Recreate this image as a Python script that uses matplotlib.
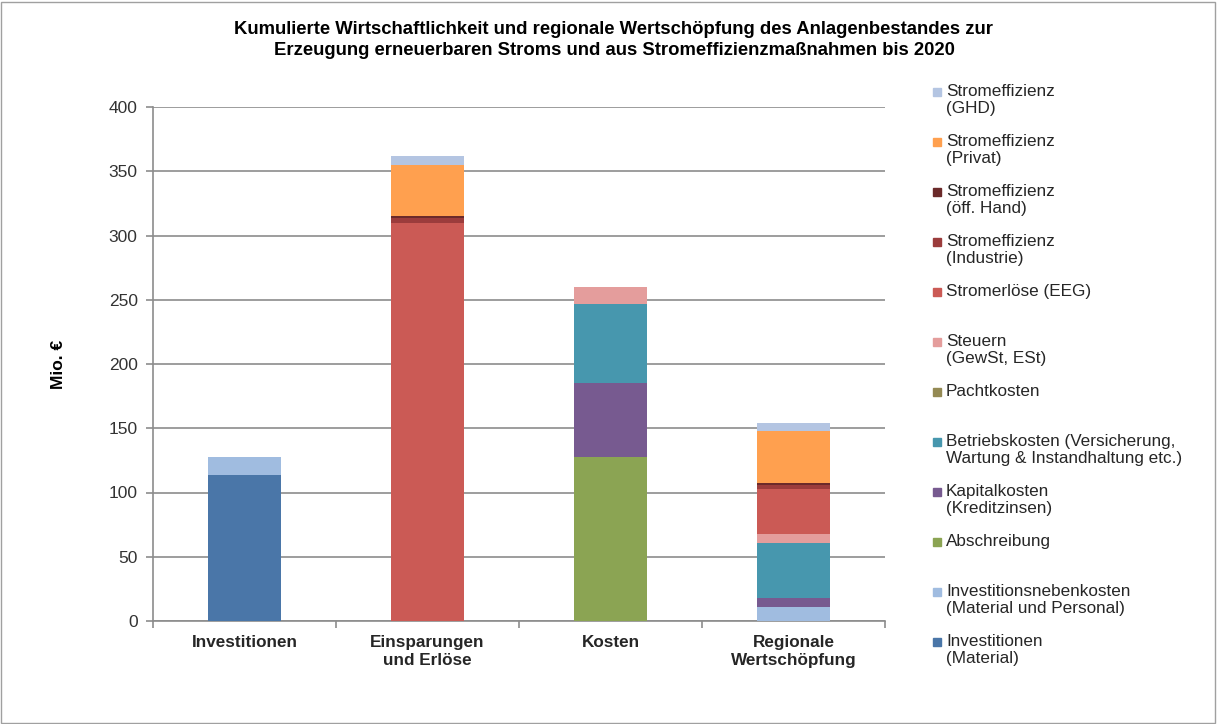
import matplotlib
matplotlib.use("Agg")
import matplotlib.pyplot as plt
from matplotlib.patches import Rectangle
import numpy as np

plt.rcParams['font.family'] = ['Liberation Sans', 'DejaVu Sans']

categories = ["Investitionen", "Einsparungen\nund Erlöse", "Kosten", "Regionale\nWertschöpfung"]

inv_material = [114, 0, 0, 0]
inv_neben = [14, 0, 0, 11]
abschreibung = [0, 0, 128, 0]
kapitalkosten = [0, 0, 57, 7]
betriebskosten = [0, 0, 61.5, 43]
pachtkosten = [0, 0, 0, 0]
steuern = [0, 0, 13.5, 7]
stromerloese = [0, 309.5, 0, 34.7]
eff_industrie = [0, 4.5, 0, 3.4]
eff_oeff = [0, 1.5, 0, 1.5]
eff_privat = [0, 39.7, 0, 40.4]
eff_ghd = [0, 6.8, 0, 6]

series = [
    ("Investitionen\n(Material)", inv_material, "#4A76A8"),
    ("Investitionsnebenkosten\n(Material und Personal)", inv_neben, "#A0BCE0"),
    ("Abschreibung", abschreibung, "#8BA453"),
    ("Kapitalkosten\n(Kreditzinsen)", kapitalkosten, "#775A90"),
    ("Betriebskosten (Versicherung,\nWartung & Instandhaltung etc.)", betriebskosten, "#4797AE"),
    ("Pachtkosten", pachtkosten, "#948A54"),
    ("Steuern\n(GewSt, ESt)", steuern, "#E49D9C"),
    ("Stromerlöse (EEG)", stromerloese, "#CB5A55"),
    ("Stromeffizienz\n(Industrie)", eff_industrie, "#9B3C3C"),
    ("Stromeffizienz\n(öff. Hand)", eff_oeff, "#6B2A2A"),
    ("Stromeffizienz\n(Privat)", eff_privat, "#FFA04F"),
    ("Stromeffizienz\n(GHD)", eff_ghd, "#B4C5E2"),
]

W, H = 1217, 724
fig = plt.figure(figsize=(W / 100, H / 100), dpi=100)
fig.patches.append(Rectangle((1 / W, 1 / H), 1 - 3 / W, 1 - 3 / H, transform=fig.transFigure,
                             fill=False, edgecolor="#A0A0A0", linewidth=1))

ax = fig.add_axes([153 / W, 1 - 621 / H, (885 - 153) / W, (621 - 107) / H])
x = np.arange(len(categories))
bottom = np.zeros(len(categories))
for label, vals, color in series:
    v = np.array(vals, dtype=float)
    ax.bar(x, v, width=0.4, bottom=bottom, color=color, linewidth=0, zorder=3)
    bottom += v

ax.set_xlim(-0.5, 3.5)
ax.set_ylim(0, 400)
ax.set_yticks(np.arange(0, 401, 50))
ax.yaxis.grid(True, color="#8C8C8C", linewidth=1.2, zorder=0)
ax.set_axisbelow(True)
for s in ["top", "right"]:
    ax.spines[s].set_visible(False)
for s in ["left", "bottom"]:
    ax.spines[s].set_color("#8C8C8C")
    ax.spines[s].set_linewidth(1.2)
ax.tick_params(axis="y", colors="#8C8C8C", labelcolor="#333333", labelsize=12.5, length=5,
               width=1.2, pad=6)
ax.set_xticks(np.arange(-0.5, 4, 1.0))
ax.set_xticklabels([])
ax.tick_params(axis="x", colors="#8C8C8C", length=5, width=1.2)
for xi, cat in zip(x, categories):
    ax.text(xi, -11, cat, ha="center", va="top", fontsize=12.3, fontweight="bold",
            color="#262626", linespacing=1.25, transform=ax.transData)

ax.set_ylabel("Mio. €", fontsize=12.5, fontweight="bold", labelpad=31)

fig.text(614 / W, 1 - 40 / H,
         "Kumulierte Wirtschaftlichkeit und regionale Wertschöpfung des Anlagenbestandes zur\n"
         "Erzeugung erneuerbaren Stroms und aus Stromeffizienzmaßnahmen bis 2020",
         ha="center", va="center", fontsize=13.3, fontweight="bold", linespacing=1.25)

# legend (drawn manually, top entry = last series)
for i, (label, vals, color) in enumerate(reversed(series)):
    yc = 92 + 50 * i
    fig.patches.append(Rectangle((933 / W, 1 - (yc + 4) / H), 8 / W, 8 / H,
                                 transform=fig.transFigure, color=color))
    fig.text(946 / W, 1 - (yc - 8) / H, label, ha="left", va="top", fontsize=12.3,
             color="#262626", linespacing=1.15)

fig.savefig("out.png", dpi=100)
